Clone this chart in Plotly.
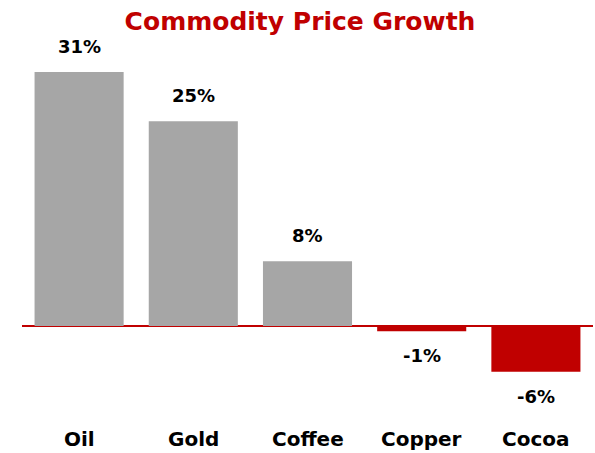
import plotly.graph_objects as go

categories = ["Oil", "Gold", "Coffee", "Copper", "Cocoa"]
growth = [31.0, 25.0, 7.9, -0.65, -5.6]

GRAY = "#A6A6A6"
RED = "#C00000"
FONT = "DejaVu Sans"

colors = [GRAY if v >= 0 else RED for v in growth]
labels = [f"{round(v):d}%" for v in growth]

W, H = 595, 453
mt, mb, ml, mr = 30, 29, 22, 2
zero_px = 326
px_per_unit = 8.19
y_top = (zero_px - mt) / px_per_unit
y_bot = -((H - mb) - zero_px) / px_per_unit

fig = go.Figure(go.Bar(
    x=categories, y=growth, marker=dict(color=colors, line=dict(width=0)),
    hoverinfo="skip",
))

for c, v, t in zip(categories, growth, labels):
    fig.add_annotation(
        x=c, y=v, text=f"<b>{t}</b>", showarrow=False,
        yanchor="bottom" if v >= 0 else "top",
        yshift=13 if v >= 0 else -12,
        font=dict(family=FONT, size=18, color="#000000"),
    )

for c in categories:
    fig.add_annotation(
        x=c, y=0, yref="paper", text=f"<b>{c}</b>", showarrow=False,
        yanchor="middle", yshift=-15,
        font=dict(family=FONT, size=20, color="#000000"),
    )

fig.update_layout(
    width=W, height=H,
    margin=dict(l=ml, r=mr, t=mt, b=mb, autoexpand=False),
    paper_bgcolor="white", plot_bgcolor="white",
    bargap=0.22,
    showlegend=False,
    title=dict(
        text="<b>Commodity Price Growth</b>",
        x=300 / W, xanchor="center", xref="container",
        y=1 - 21 / H, yanchor="middle", yref="container",
        font=dict(family=FONT, size=25, color=RED),
        automargin=False,
    ),
    xaxis=dict(
        showgrid=False, showline=False, ticks="", showticklabels=False,
        automargin=False,
    ),
    yaxis=dict(
        range=[y_bot, y_top], showgrid=False, showticklabels=False,
        zeroline=True, zerolinecolor=RED, zerolinewidth=2, ticks="",
        automargin=False,
    ),
)

fig.write_html(
    "out.html",
    config={"displayModeBar": False},
    post_script="document.body.style.margin='0';document.body.style.overflow='hidden';",
)
